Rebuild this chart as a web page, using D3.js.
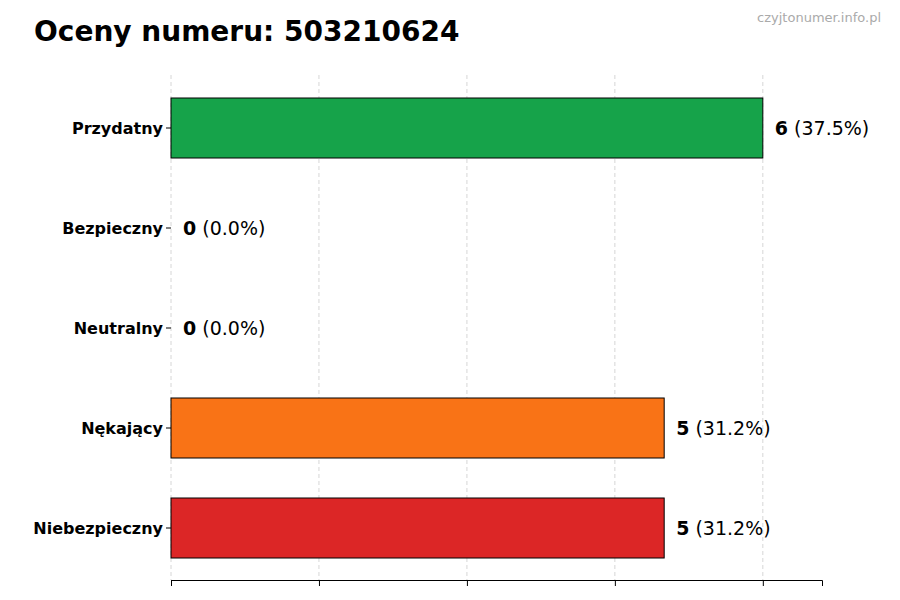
<!DOCTYPE html>
<html><head><meta charset="utf-8">
<script src="https://cdn.jsdelivr.net/npm/d3@7"></script>
<style>body{margin:0;background:#fff;font-family:"DejaVu Sans",sans-serif}</style>
</head><body><svg id="c" width="900" height="600"></svg>
<script>
const categories=["Przydatny","Bezpieczny","Neutralny","Nękający","Niebezpieczny"];
const values=[6,0,0,5,5];
const percents=["37.5%","0.0%","0.0%","31.2%","31.2%"];
const colors=["#16a34a","#16a34a","#9ca3af","#f97316","#dc2626"];
const tickValues=[0,1.5,3,4.5,6];
const svg=d3.select("#c");
const x=d3.scaleLinear().domain([0,6.6]).range([171,822]);
const y=d3.scaleBand().domain(categories).range([78,578]).paddingInner(0.4).paddingOuter(0.2);
svg.append("text").attr("x",34).attr("y",41).attr("font-size",28).attr("font-weight","bold").text("Oceny numeru: 503210624");
svg.append("text").attr("x",881).attr("y",22).attr("text-anchor","end").attr("font-size",13).attr("fill","#aaa").text("czyjtonumer.info.pl");
svg.append("g").selectAll("line").data(tickValues).join("line")
 .attr("x1",d=>x(d)).attr("x2",d=>x(d)).attr("y1",75).attr("y2",580)
 .attr("stroke","#ccc").attr("stroke-dasharray","4,3").attr("stroke-width",0.8);
svg.append("g").selectAll("rect").data(categories).join("rect")
 .attr("x",x(0)).attr("y",d=>y(d)).attr("height",y.bandwidth())
 .attr("width",(d,i)=>x(values[i])-x(0)).attr("fill",(d,i)=>colors[i])
 .attr("stroke","#000").attr("stroke-width",1);
const lab=svg.append("g").selectAll("text").data(categories).join("text")
 .attr("x",(d,i)=>x(values[i])+12).attr("y",d=>y(d)+y.bandwidth()/2+7).attr("font-size",19);
lab.append("tspan").attr("font-weight","bold").text((d,i)=>values[i]);
lab.append("tspan").text((d,i)=>" ("+percents[i]+")");
const ax=svg.append("g").attr("transform","translate(0,580)").call(d3.axisBottom(x).tickValues(tickValues).tickFormat("").tickSizeOuter(0).tickSize(6));
ax.select(".domain").attr("stroke","#000");
const ay=svg.append("g").attr("transform","translate(171,0)").call(d3.axisLeft(y).tickSize(5));
ay.select(".domain").remove();
ay.selectAll("text").attr("font-size",16).attr("font-weight","bold").attr("fill","#000").attr("font-family","DejaVu Sans").attr("dy","0.4em");
</script></body></html>
